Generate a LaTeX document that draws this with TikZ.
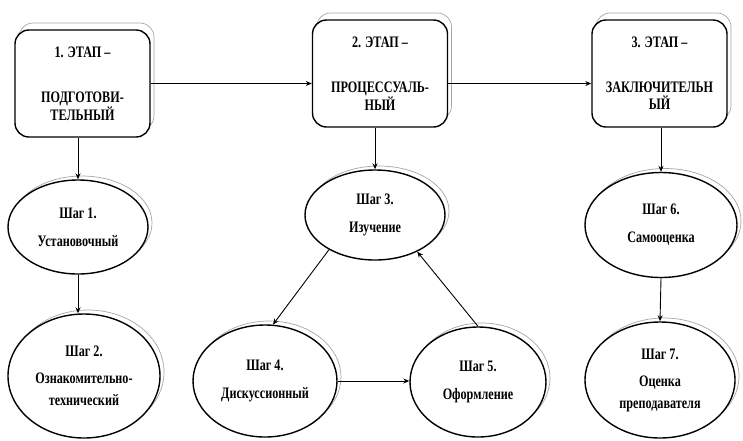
\documentclass[tikz,border=0pt]{standalone}
\usepackage{fontspec}
\setmainfont[FakeStretch=0.76]{Liberation Serif}
\usepackage{tikz}
\usetikzlibrary{shapes.geometric,shadows,arrows.meta}

\begin{document}
\begin{tikzpicture}[x=1pt,y=-1pt,
		font=\fontsize{16}{17}\selectfont\bfseries,
		etap/.style={rectangle,draw,line width=1.4pt,rounded corners=14pt,fill=white,
			align=center,inner sep=0pt,minimum width=135pt,minimum height=107pt,
			copy shadow={shadow xshift=4pt,shadow yshift=7pt,draw=gray!70,fill=white,line width=0.7pt}},
		shag/.style={ellipse,draw,line width=1.4pt,fill=white,align=center,inner sep=0pt,
			copy shadow={shadow xshift=4pt,shadow yshift=4pt,draw=gray!70,fill=white,line width=0.7pt}},
		pfeil/.style={line width=0.9pt,-{Stealth[length=6pt,width=5pt]}}]

	\useasboundingbox (0,0) rectangle (743,440);

	% Etapy
	\node[etap] (b1) at (82.5,83.5) {1. ЭТАП --\\[28pt]ПОДГОТОВИ-\\ТЕЛЬНЫЙ};
	\node[etap] (b2) at (380,73.5) {2. ЭТАП --\\[28pt]ПРОЦЕССУАЛЬ-\\НЫЙ};
	\node[etap] (b3) at (659.5,73.5) {3. ЭТАП --\\[28pt]ЗАКЛЮЧИТЕЛЬН\\ЫЙ};

	% Shagi
	\node[shag,minimum width=140pt,minimum height=94pt] (e1) at (78,227) {Шаг 1.\\[11pt]Установочный};
	\node[shag,minimum width=152pt,minimum height=124pt] (e2) at (84,376) {Шаг 2.\\[10pt]Ознакомительно-\\[5pt]технический};
	\node[shag,minimum width=140pt,minimum height=90pt] (e3) at (375,215) {Шаг 3.\\[11pt]Изучение};
	\node[shag,minimum width=144pt,minimum height=112pt] (e4) at (265,381) {Шаг 4.\\[11pt]Дискуссионный};
	\node[shag,minimum width=136pt,minimum height=110pt] (e5) at (478,382) {Шаг 5.\\[11pt]Оформление};
	\node[shag,minimum width=152pt,minimum height=105pt] (e6) at (661,225) {Шаг 6.\\[11pt]Самооценка};
	\node[shag,minimum width=150pt,minimum height=116pt] (e7) at (660,380) {Шаг 7.\\[10pt]Оценка\\[5pt]преподавателя};

	% Svyazi
	\draw[pfeil] (b1.east) -- (b1.east -| b2.west);
	\draw[pfeil] (b2.east |- b1.east) -- (b1.east -| b3.west);
	\draw[pfeil] (e1.north |- b1.south) -- (e1.north);
	\draw[pfeil] (e1.south) -- (e1.south |- e2.north);
	\draw[pfeil] (e3.north |- b2.south) -- (e3.north);
	\draw[pfeil] (e3.217) -- (e4.82);
	\draw[pfeil] (e4.east) -- (e4.east -| e5.west);
	\draw[pfeil] (e5.north) -- (e3.319);
	\draw[pfeil] (e6.north |- b3.south) -- (e6.north);
	\draw[pfeil] (e6.south) -- (e7.north);
\end{tikzpicture}
\end{document}
